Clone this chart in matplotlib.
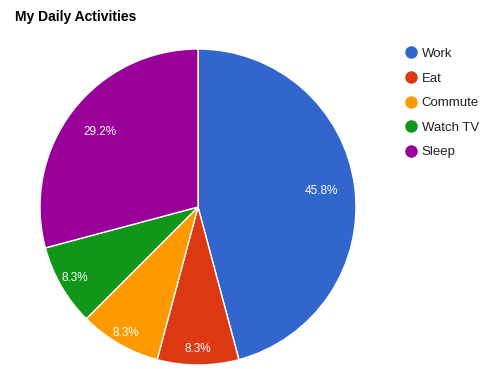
import matplotlib
matplotlib.use('Agg')
import matplotlib.pyplot as plt
from matplotlib.lines import Line2D
import numpy as np

activities = ['Work', 'Eat', 'Commute', 'Watch TV', 'Sleep']
hours = [11, 2, 2, 2, 7]
colors = ['#3366cc', '#dc3912', '#ff9900', '#109618', '#990099']
label_dist = [0.79, 0.9, 0.92, 0.9, 0.78]  # how far out each % label sits

plt.rcParams['font.family'] = ['Liberation Sans', 'DejaVu Sans']

fig = plt.figure(figsize=(4.92, 3.69), dpi=100)
ax = fig.add_axes([(198 - 158) / 492, (162 - 158) / 369, 316 / 492, 316 / 369])

wedges, _ = ax.pie(hours, colors=colors, startangle=90, counterclock=False,
                   wedgeprops=dict(edgecolor='white', linewidth=1))
ax.set_aspect('equal')
ax.set_xlim(-1, 1)
ax.set_ylim(-1, 1)

total = sum(hours)
for w, h, d in zip(wedges, hours, label_dist):
    ang = np.deg2rad((w.theta1 + w.theta2) / 2)
    ax.text(d * np.cos(ang), d * np.sin(ang), f'{100 * h / total:.1f}%',
            color='white', fontsize=8.5, ha='center', va='center')

fig.text(15 / 492, 1 - 17 / 369, 'My Daily Activities', fontsize=10,
         fontweight='bold', va='center', ha='left')

handles = [Line2D([], [], marker='o', linestyle='none', markersize=9,
                  markerfacecolor=c, markeredgecolor='none') for c in colors]
leg = fig.legend(handles, activities, loc='upper left', bbox_to_anchor=(394 / 492, 1 - 36 / 369),
                 frameon=False, fontsize=9.5, handlelength=0.8, handletextpad=0.4,
                 labelspacing=0.93, labelcolor='#222222')

plt.savefig('out.png', dpi=100)
